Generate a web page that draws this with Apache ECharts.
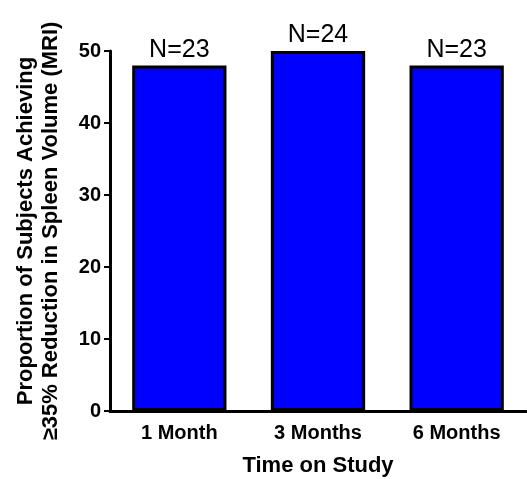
<!DOCTYPE html>
<html>
<head>
<meta charset="utf-8">
<script src="https://cdn.jsdelivr.net/npm/echarts@6/dist/echarts.min.js"></script>
<style>html,body{margin:0;padding:0;background:#fff}#c{width:527px;height:479px}</style>
</head>
<body>
<div id="c"></div>
<script>
const categories = ['1 Month', '3 Months', '6 Months'];
const values = [48, 50, 48];
const nLabels = ['N=23', 'N=24', 'N=23'];
const yTicks = { min: 0, max: 50, interval: 10 };
const xTitle = 'Time on Study';
const yTitle = ['Proportion of Subjects Achieving', '\u226535% Reduction in Spleen Volume (MRI)'];

const chart = echarts.init(document.getElementById('c'), null, { renderer: 'canvas' });
const font = 'Arial, "Liberation Sans", sans-serif';
chart.setOption({
  animation: false,
  backgroundColor: '#fff',
  grid: { left: 110, right: 1, top: 51, bottom: 68, containLabel: false, outerBoundsMode: 'none' },
  xAxis: {
    type: 'category',
    data: categories,
    name: xTitle,
    nameLocation: 'middle',
    nameGap: 44,
    nameTextStyle: { fontFamily: font, fontWeight: 'bold', fontSize: 22, color: '#000' },
    axisLine: { lineStyle: { color: '#000', width: 3 } },
    axisTick: { alignWithLabel: true, length: 6, lineStyle: { color: '#000', width: 3 } },
    axisLabel: { fontFamily: font, fontWeight: 'bold', fontSize: 20, color: '#000', margin: 12 },
    splitLine: { show: false }
  },
  yAxis: {
    type: 'value',
    min: yTicks.min, max: yTicks.max, interval: yTicks.interval,
    name: yTitle.join('\n'),
    nameLocation: 'middle',
    nameRotate: 90,
    nameGap: 47,
    nameTextStyle: { fontFamily: font, fontWeight: 'bold', fontSize: 22, lineHeight: 25, color: '#000', align: 'center' },
    axisLine: { show: true, lineStyle: { color: '#000', width: 3 } },
    axisTick: { show: true, length: 6, lineStyle: { color: '#000', width: 2 } },
    axisLabel: { fontFamily: font, fontWeight: 'bold', fontSize: 20, color: '#000', margin: 9 },
    splitLine: { show: false }
  },
  series: [{
    type: 'bar',
    data: values,
    barWidth: '68%',
    itemStyle: { color: '#0000ff', borderColor: '#000', borderWidth: 3 },
    label: {
      show: true, position: 'top', distance: 3,
      formatter: p => nLabels[p.dataIndex],
      fontFamily: font, fontSize: 25, color: '#000'
    }
  }]
});
</script>
</body>
</html>
